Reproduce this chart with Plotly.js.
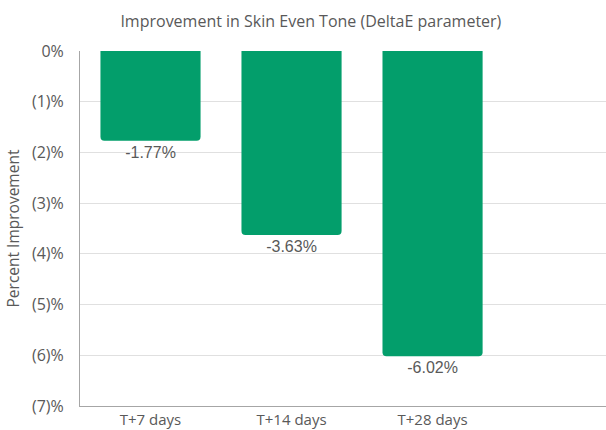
<!DOCTYPE html>
<html>
<head>
<meta charset="utf-8">
<script src="https://cdn.plot.ly/plotly-3.0.1.min.js"></script>
<style>html,body{margin:0;padding:0;background:#fff;}#chart{width:606px;height:430px;}</style>
</head>
<body>
<div id="chart"></div>
<script>
const categories = ["T+7 days", "T+14 days", "T+28 days"];
const improvement = [-1.77, -3.63, -6.02];
const labels = ["-1.77%", "-3.63%", "-6.02%"];
const yTickVals = [0, -1, -2, -3, -4, -5, -6, -7];
const yTickText = ["0%", "(1)%", "(2)%", "(3)%", "(4)%", "(5)%", "(6)%", "(7)%"];

const trace = {
  type: "bar",
  x: categories,
  y: improvement,
  text: labels,
  textposition: "outside",
  texttemplate: "%{text}",
  textfont: {family: "Liberation Sans, Arial, sans-serif", size: 16, color: "#595959"},
  cliponaxis: false,
  width: 0.71,
  marker: {color: "#039e6b", cornerradius: 4},
  hoverinfo: "skip"
};

const layout = {
  width: 606, height: 430,
  margin: {l: 80, r: 0, t: 51, b: 24},
  paper_bgcolor: "#fff", plot_bgcolor: "#fff",
  showlegend: false,
  title: {
    text: "Improvement in Skin Even Tone (DeltaE parameter)",
    font: {family: "Open Sans, sans-serif", size: 16, color: "#595959"},
    x: 0.513, xanchor: "center", y: 0.951, yanchor: "middle"
  },
  xaxis: {
    type: "category",
    range: [-0.5, 3.23],
    showline: true, linecolor: "#a6a6a6", linewidth: 1,
    showgrid: false, zeroline: false,
    ticks: "",
    tickfont: {family: "Open Sans, sans-serif", size: 15, color: "#595959"},
    fixedrange: true
  },
  yaxis: {
    range: [-7, 0],
    tickvals: yTickVals, ticktext: yTickText,
    showline: true, linecolor: "#a6a6a6", linewidth: 1,
    showgrid: true, gridcolor: "#e0e0e0", gridwidth: 1,
    zeroline: false,
    ticks: "", ticklabelstandoff: 12,
    tickfont: {family: "Open Sans, sans-serif", size: 16, color: "#595959"},
    title: {text: "Percent Improvement", font: {family: "Open Sans, sans-serif", size: 15.5, color: "#595959"}, standoff: 8},
    fixedrange: true
  }
};

Plotly.newPlot("chart", [trace], layout, {displayModeBar: false, staticPlot: true});
</script>
</body>
</html>
